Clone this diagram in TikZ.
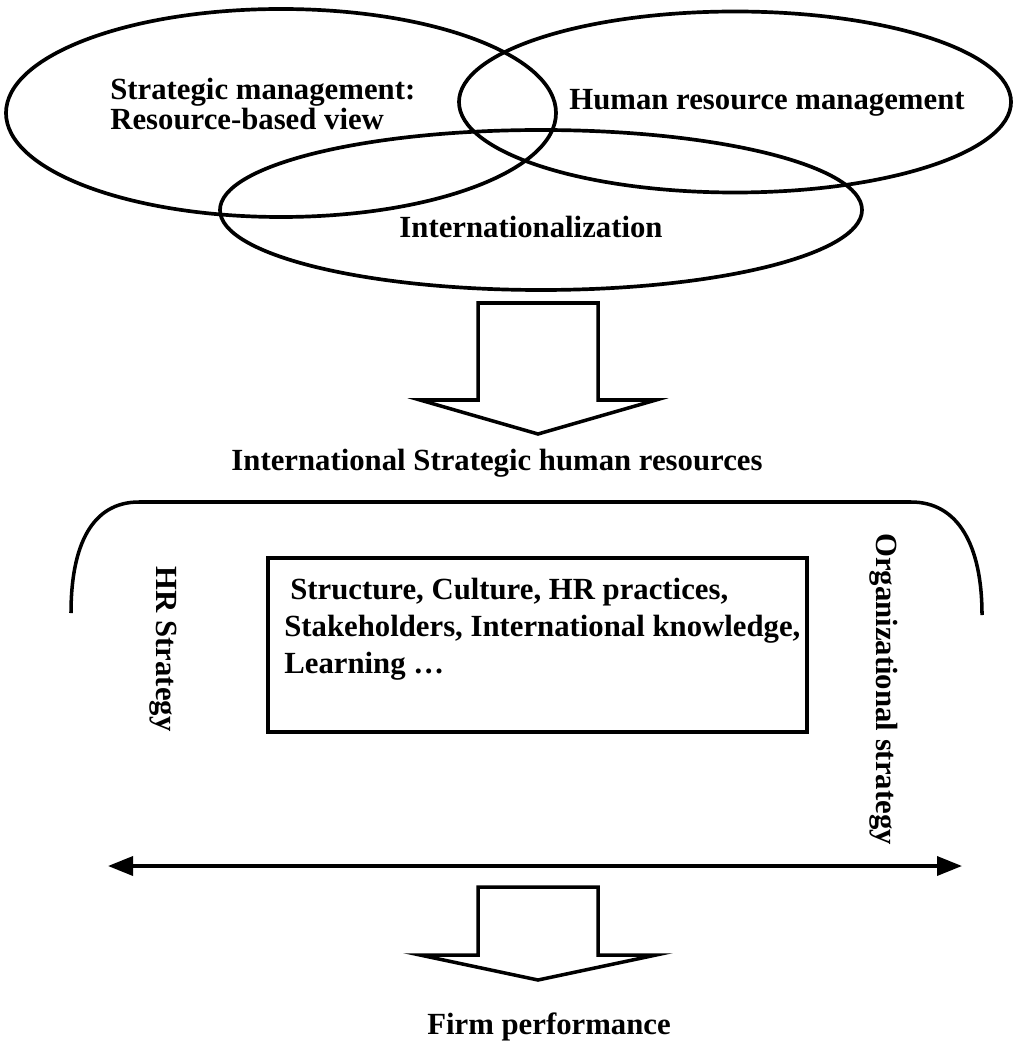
\documentclass[tikz,border=0pt]{standalone}
\usepackage{fontspec}
\setmainfont{Liberation Serif}
\usetikzlibrary{shapes.geometric,arrows.meta}

\begin{document}
\begin{tikzpicture}[x=0.2mm, y=-0.2mm,
venn/.style={ellipse, draw=black, line width=2.1pt, inner sep=0pt},
txt/.style={font=\fontsize{17.5}{21}\selectfont\bfseries, inner sep=0pt},
blockarrow/.style={draw=black, fill=white, line width=2pt, line join=miter},
bracket/.style={draw=black, line width=2pt},
factorbox/.style={rectangle, draw=black, line width=2pt, minimum width=107.8mm, minimum height=34.8mm}
]
\useasboundingbox (0,0) rectangle (1013,1041);
%Ellipses
\node[venn, minimum width=110mm, minimum height=41.6mm]   (sm)   at (281,113) {};
\node[venn, minimum width=110.4mm, minimum height=36.2mm] (hrm)  at (735,102) {};
\node[venn, minimum width=128.4mm, minimum height=32mm]   (intl) at (541,210) {};
%Nodes
\node[txt, anchor=west, align=left, font=\fontsize{17.5}{17.5}\selectfont\bfseries] (smtext) at (110,104) {Strategic management:\\Resource-based view};
\node[txt]      (hrmtext)   at (767,103)  {Human resource management};
\node[txt]      (intltext)  at (531,227)  {Internationalization};
\node[txt]      (ishr)      at (497,463)  {International Strategic human resources};
\node[factorbox] (factors)  at (537.5,645) {};
\node[txt, anchor=north west, align=left] (factorstext) at (284,578) {\hspace{1.2mm}Structure, Culture, HR practices,\\Stakeholders, International knowledge,\\Learning \dots};
\node[txt, rotate=-90] (hrstrat)  at (163,649) {HR Strategy};
\node[txt, rotate=-90] (orgstrat) at (884,689) {Organizational strategy};
\node[txt]      (firm)      at (549,1027) {Firm performance};
\coordinate (lend) at (108,866);
\coordinate (rend) at (962,866);
%Lines
\draw[blockarrow] (478,303) -- (598,303) -- (598,400) -- (656,400) -- (538,434) -- (420,400) -- (478,400) -- cycle;
\draw[bracket] (71,613) .. controls (71,545) and (92,502) .. (139,502) -- (911,502) .. controls (958,502) and (982,545) .. (982,615);
\draw[line width=2pt, {Triangle[length=5mm,width=3.8mm]}-{Triangle[length=5mm,width=3.8mm]}] (lend) -- (rend);
\draw[blockarrow] (478,887) -- (598,887) -- (598,955) -- (656,955) -- (538,980) -- (420,955) -- (478,955) -- cycle;
\end{tikzpicture}
\end{document}
